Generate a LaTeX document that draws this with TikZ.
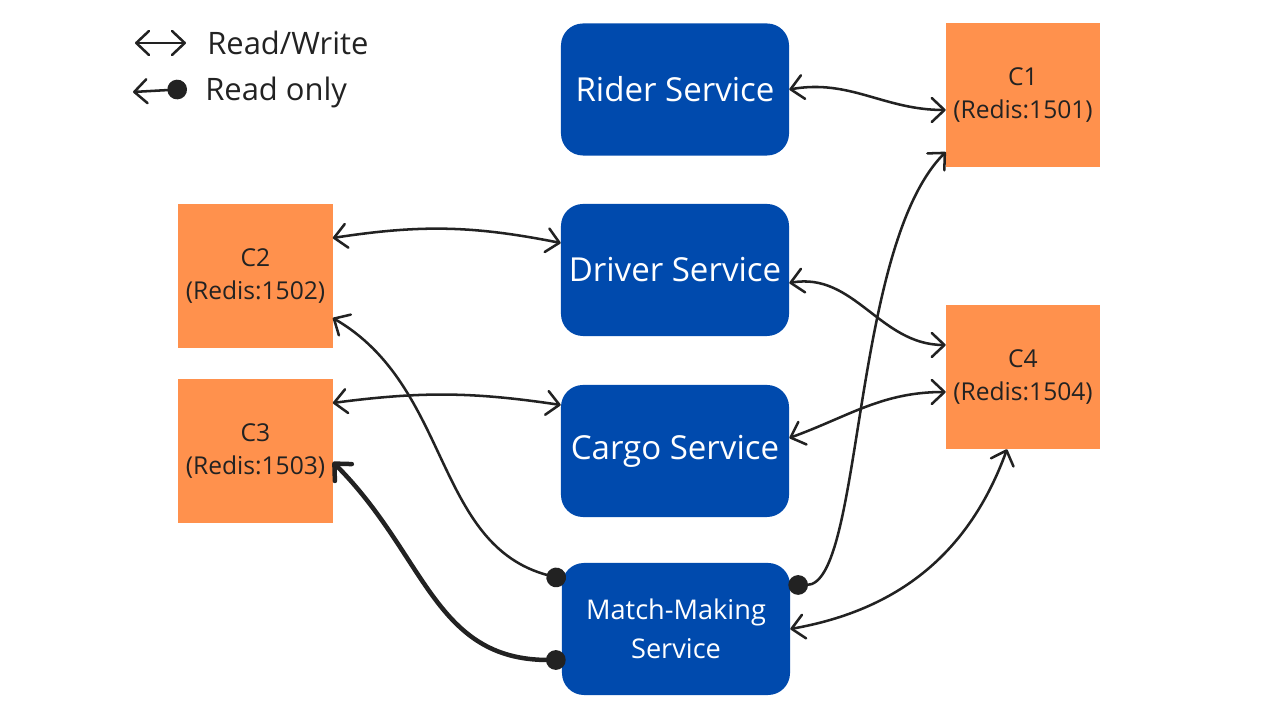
\documentclass[tikz,border=0pt]{standalone}
\usepackage{fontspec}
\setmainfont{Open Sans}
\usetikzlibrary{arrows.meta}
\definecolor{svcblue}{HTML}{004AAD}
\definecolor{cacheorange}{HTML}{FF914D}
\definecolor{ink}{HTML}{222222}
\tikzset{
    service/.style={fill=svcblue,text=white,rounded corners=0.55cm,minimum width=5.7cm,minimum height=3.3cm,align=center,font=\fontsize{23.5}{28}\selectfont},
    cache/.style={fill=cacheorange,text=ink,minimum width=3.85cm,minimum height=3.6cm,align=center,font=\fontsize{17.5}{24}\selectfont},
    barb/.tip={Straight Barb[length=9pt,width=17pt,round]},
    rw/.style={ink,line width=1.8pt,barb-barb},
    ro/.style={ink,line width=1.8pt,{Circle[length=14pt]}-barb},
    legend/.style={anchor=west,inner sep=0pt,text=ink,font=\fontsize{22}{26}\selectfont}
}
\begin{document}
\begin{tikzpicture}[x=0.025cm,y=0.025cm]
    \useasboundingbox (0,0) rectangle (1280,720);
    % legend
    \node[legend] (rwtext) at (207,677) {Read/Write};
    \node[legend] (rotext) at (205,628) {Read only};
    \coordinate (rw-l) at (135,677);
    \coordinate (rw-r) at (186,677);
    \coordinate (ro-l) at (133,628);
    \coordinate (ro-r) at (187,631);
    \draw[rw] (rw-l) -- (rw-r);
    \draw[ro] (ro-r) -- (ro-l);
    % services and caches
    \node[service] (rider) at (675,630.5) {Rider Service};
    \node[service] (driver) at (675,450) {Driver Service};
    \node[service] (cargo) at (675,269) {Cargo Service};
    \node[service,font=\fontsize{19.3}{28}\selectfont] (match) at (676,91) {Match-Making\\Service};
    \node[cache] (c1) at (1023,625) {C1\\(Redis:1501)};
    \node[cache] (c4) at (1023,343) {C4\\(Redis:1504)};
    \node[cache] (c2) at (255.5,444) {C2\\(Redis:1502)};
    \node[cache] (c3) at (255.5,269) {C3\\(Redis:1503)};
    % connectors
    \draw[rw] (rider.east) to[out=10,in=180] ([yshift=-0.375cm]c1.west);
    \draw[rw] ([yshift=0.95cm]c2.east) to[bend left=10] ([yshift=0.675cm]driver.west);
    \draw[rw] ([yshift=-0.325cm]driver.east) to[out=10,in=180] ([yshift=0.8cm]c4.west);
    \draw[rw] ([yshift=1.2cm]c3.east) to[bend left=8] ([yshift=1.15cm]cargo.west);
    \draw[rw] ([yshift=0.325cm]cargo.east) to[out=20,in=180] ([yshift=-0.375cm]c4.west);
    \draw[ro] ([xshift=0.1cm,yshift=1.225cm]match.west) to[out=165,in=-30] ([yshift=-1.05cm]c2.east);
    \draw[ro,line width=3.2pt] ([xshift=0.1cm,yshift=-0.775cm]match.west) to[out=180,in=-45,looseness=1.1] ([yshift=-0.275cm]c3.east);
    \draw[ro] ([xshift=-0.05cm,yshift=1.1cm]match.east) .. controls +(75,0) and +(-95,-95) .. ([yshift=-1.425cm]c1.west);
    \draw[rw] (match.east) to[out=10,in=-110] ([xshift=-0.4cm]c4.south);
    %\draw[rw] (driver.east) -- (c4.west);
\end{tikzpicture}
\end{document}
